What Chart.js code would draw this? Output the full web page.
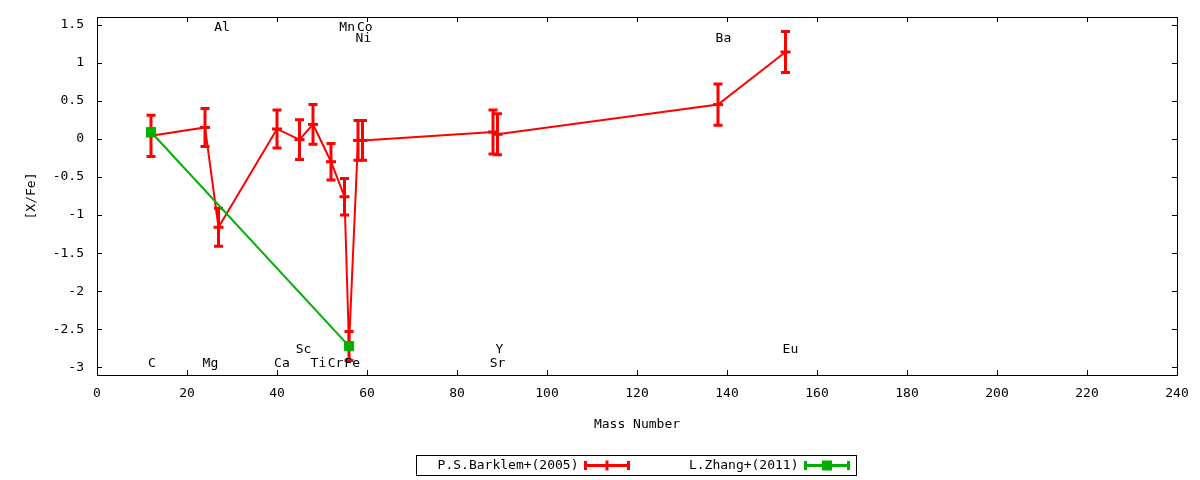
<!DOCTYPE html>
<html>
<head>
<meta charset="utf-8">
<script src="https://cdn.jsdelivr.net/npm/chart.js@4.4.1/dist/chart.umd.min.js"></script>
<style>
  html, body { margin: 0; padding: 0; background: #fff; }
</style>
</head>
<body>
<canvas id="chart" width="1200" height="480"></canvas>
<script>
// P.S.Barklem+(2005)
const barklemMass  = [12, 24, 27, 40, 45, 48, 52, 55, 56, 58, 59, 88, 89, 138, 153];
const barklemValue = [0.04, 0.15, -1.16, 0.13, -0.01, 0.19, -0.30, -0.76, -2.72, -0.02, -0.02, 0.09, 0.06, 0.45, 1.14];
const barklemError = [0.27, 0.25, 0.25, 0.25, 0.26, 0.26, 0.24, 0.24, 0.19, 0.26, 0.26, 0.29, 0.27, 0.27, 0.27];

// L.Zhang+(2011)
const zhangMass  = [12, 56];
const zhangValue = [0.09, -2.72];
const zhangError = [0, 0];

// element names written inside the plot
const elementNames = ['C', 'Mg', 'Al', 'Ca', 'Sc', 'Ti', 'Cr', 'Mn', 'Fe', 'Co', 'Ni', 'Sr', 'Y', 'Ba', 'Eu'];
const elementX     = [12.2, 25.2, 27.8, 41.1, 45.9, 49.2, 53.0, 55.6, 56.7, 59.5, 59.2, 89.0, 89.4, 139.2, 154.1];
const elementY     = [-2.95, -2.95, 1.46, -2.95, -2.77, -2.95, -2.95, 1.46, -2.95, 1.46, 1.32, -2.95, -2.77, 1.32, -2.77];

const FONT = '13px "DejaVu Sans Mono", monospace';

function toPoints(xs, ys) {
  return xs.map((x, i) => ({ x: x, y: ys[i] }));
}

// barras de error verticales (antes de los puntos)
const errorBars = {
  id: 'errorBars',
  beforeDatasetsDraw(chart) {
    const ctx = chart.ctx;
    const xs = chart.scales.x, ys = chart.scales.y;
    chart.data.datasets.forEach(ds => {
      if (!ds.errors) return;
      ctx.save();
      ctx.strokeStyle = ds.borderColor;
      ctx.lineWidth = 3;
      ds.data.forEach((p, i) => {
        const e = ds.errors[i];
        if (!e) return;
        const px = xs.getPixelForValue(p.x);
        const top = ys.getPixelForValue(p.y + e);
        const bot = ys.getPixelForValue(p.y - e);
        ctx.beginPath();
        ctx.moveTo(px, top); ctx.lineTo(px, bot);
        ctx.moveTo(px - 4.5, top); ctx.lineTo(px + 4.5, top);
        ctx.moveTo(px - 4.5, bot); ctx.lineTo(px + 4.5, bot);
        ctx.stroke();
      });
      ctx.restore();
    });
  }
};

// marco, marcas hacia dentro, etiquetas de elementos y leyenda
const frame = {
  id: 'frame',
  afterDraw(chart) {
    const ctx = chart.ctx;
    const a = chart.chartArea;
    const xs = chart.scales.x, ys = chart.scales.y;
    ctx.save();
    ctx.strokeStyle = '#000';
    ctx.lineWidth = 1;
    ctx.strokeRect(Math.round(a.left) + 0.5, Math.round(a.top) + 0.5,
                   Math.round(a.right - a.left), Math.round(a.bottom - a.top));
    ctx.beginPath();
    xs.ticks.forEach(t => {
      const px = Math.round(xs.getPixelForValue(t.value)) + 0.5;
      ctx.moveTo(px, a.bottom); ctx.lineTo(px, a.bottom - 5);
      ctx.moveTo(px, a.top); ctx.lineTo(px, a.top + 5);
    });
    ys.ticks.forEach(t => {
      const py = Math.round(ys.getPixelForValue(t.value)) + 0.5;
      ctx.moveTo(a.left, py); ctx.lineTo(a.left + 5, py);
      ctx.moveTo(a.right, py); ctx.lineTo(a.right - 5, py);
    });
    ctx.stroke();

    // nombres de los elementos
    ctx.fillStyle = '#000';
    ctx.font = FONT;
    ctx.textAlign = 'center';
    ctx.textBaseline = 'middle';
    elementNames.forEach((name, i) => {
      ctx.fillText(name, xs.getPixelForValue(elementX[i]), ys.getPixelForValue(elementY[i]));
    });

    // leyenda al estilo gnuplot
    const boxX = 416.5, boxY = 455.5, boxW = 440, boxH = 20;
    ctx.strokeRect(boxX, boxY, boxW, boxH);
    const colW = boxW / chart.data.datasets.length;
    ctx.textAlign = 'right';
    chart.data.datasets.forEach((ds, i) => {
      const x0 = boxX + i * colW;
      const cy = boxY + boxH / 2;
      ctx.fillStyle = '#000';
      ctx.fillText(ds.label, x0 + colW - 58, cy);
      const s0 = x0 + colW - 51, s1 = x0 + colW - 8;
      ctx.strokeStyle = ds.borderColor;
      ctx.lineWidth = 3;
      ctx.beginPath();
      ctx.moveTo(s0, cy); ctx.lineTo(s1, cy);
      ctx.moveTo(s0, cy - 4.5); ctx.lineTo(s0, cy + 4.5);
      ctx.moveTo(s1, cy - 4.5); ctx.lineTo(s1, cy + 4.5);
      ctx.stroke();
      const mx = (s0 + s1) / 2;
      if (ds.pointStyle === 'rect') {
        ctx.fillStyle = ds.borderColor;
        ctx.fillRect(mx - 5, cy - 5, 10, 10);
      } else {
        ctx.beginPath();
        ctx.moveTo(mx, cy - 5); ctx.lineTo(mx, cy + 5);
        ctx.stroke();
      }
    });
    ctx.restore();
  }
};

new Chart(document.getElementById('chart'), {
  type: 'scatter',
  data: {
    datasets: [{
      label: 'P.S.Barklem+(2005)',
      data: toPoints(barklemMass, barklemValue),
      errors: barklemError,
      showLine: true,
      borderColor: '#ff0000',
      backgroundColor: '#ff0000',
      borderWidth: 2,
      pointStyle: 'line',
      pointRadius: 5,
      pointBorderWidth: 3,
      order: 2
    }, {
      label: 'L.Zhang+(2011)',
      data: toPoints(zhangMass, zhangValue),
      errors: zhangError,
      showLine: true,
      borderColor: '#00b000',
      backgroundColor: '#00b000',
      borderWidth: 2,
      pointStyle: 'rect',
      pointRadius: 6.5,
      pointBorderWidth: 1,
      order: 1
    }]
  },
  options: {
    responsive: false,
    animation: false,
    devicePixelRatio: 1,
    layout: {
      padding: { left: 20, right: 23, top: 17, bottom: 40 }
    },
    plugins: {
      legend: { display: false },
      tooltip: { enabled: false }
    },
    scales: {
      x: {
        type: 'linear',
        min: 0,
        max: 240,
        grid: { display: false, drawTicks: false },
        border: { display: false },
        ticks: { stepSize: 20, padding: 11, color: '#000', font: { family: '"DejaVu Sans Mono"', size: 13 }, maxRotation: 0 },
        title: { display: true, text: 'Mass Number', color: '#000', font: { family: '"DejaVu Sans Mono"', size: 13 }, padding: { top: 0, bottom: 8 } },
        afterFit(scale) {
          scale.height = 65;
          scale.paddingLeft = 0;
          scale.paddingRight = 0;
        }
      },
      y: {
        type: 'linear',
        min: -3.1,
        max: 1.6,
        grid: { display: false, drawTicks: false },
        border: { display: false },
        ticks: {
          stepSize: 0.5,
          includeBounds: false,
          padding: 13,
          color: '#000',
          font: { family: '"DejaVu Sans Mono"', size: 13 },
          callback: v => String(Math.round(v * 10) / 10)
        },
        title: { display: true, text: '[X/Fe]', color: '#000', font: { family: '"DejaVu Sans Mono"', size: 13 }, padding: { top: 4, bottom: 0 } },
        afterFit(scale) {
          scale.width = 77;
          scale.paddingTop = 0;
          scale.paddingBottom = 0;
        }
      }
    }
  },
  plugins: [errorBars, frame]
});
</script>
</body>
</html>
